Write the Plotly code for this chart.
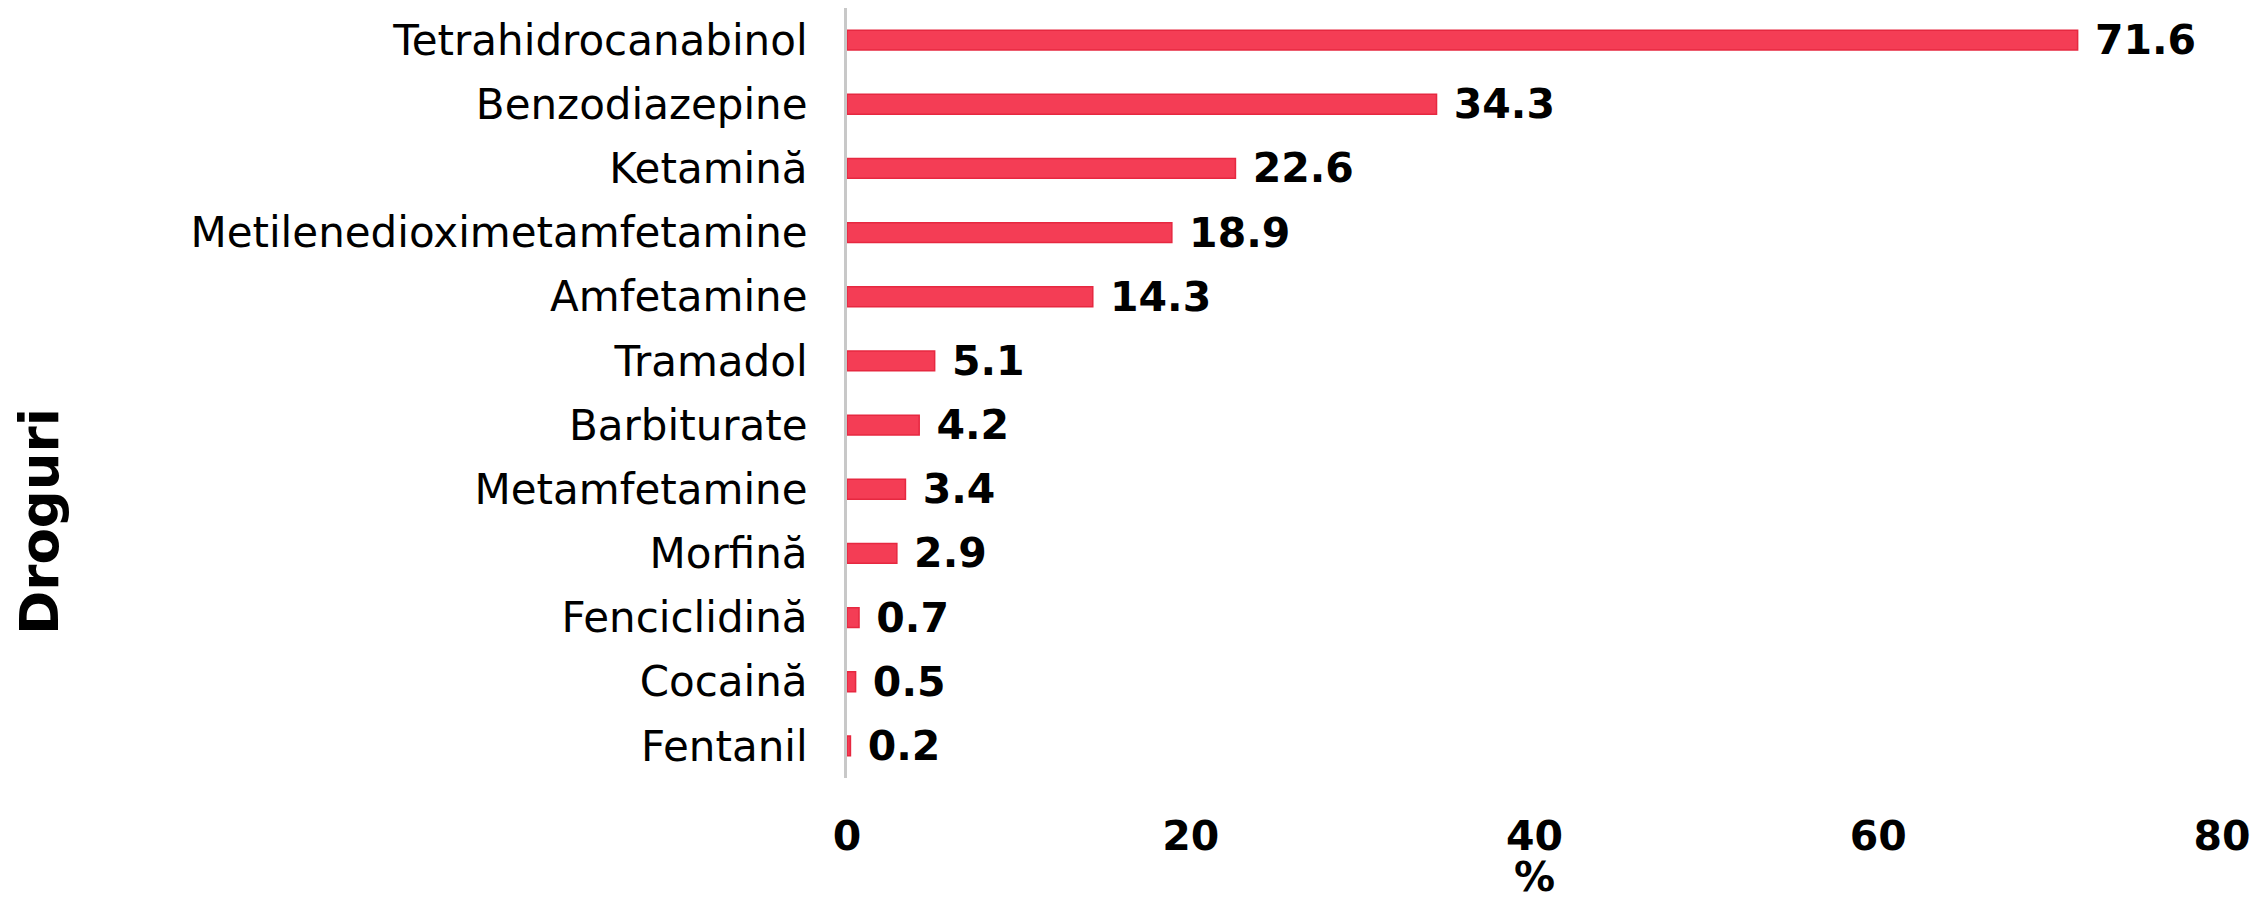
import plotly.graph_objects as go

drugs = ["Tetrahidrocanabinol", "Benzodiazepine", "Ketamină", "Metilenedioximetamfetamine",
         "Amfetamine", "Tramadol", "Barbiturate", "Metamfetamine", "Morfină",
         "Fenciclidină", "Cocaină", "Fentanil"]
percent = [71.6, 34.3, 22.6, 18.9, 14.3, 5.1, 4.2, 3.4, 2.9, 0.7, 0.5, 0.2]
x_ticks = [0, 20, 40, 60, 80]

fig = go.Figure()
fig.add_trace(go.Bar(
    y=drugs, x=percent, orientation="h",
    marker=dict(color="#f43d55", line=dict(color="#e62840", width=1.5)),
    text=percent, texttemplate="\u00a0%{x:.1f}", textposition="outside",
    constraintext="none",
    textfont=dict(family="DejaVu Sans", size=41, color="black", weight="bold"),
    cliponaxis=False, showlegend=False,
))

fig.update_layout(
    width=2252, height=892,
    margin=dict(l=839, r=38, t=0, b=122),
    paper_bgcolor="white", plot_bgcolor="white",
    bargap=0.69,
    font=dict(family="DejaVu Sans", color="black"),
    annotations=[
        dict(text="Droguri", xref="paper", yref="paper", x=-0.587, y=0.334,
             xanchor="center", yanchor="middle", textangle=-90, showarrow=False,
             font=dict(family="DejaVu Sans", size=53, color="black", weight="bold")),
        dict(text="%", xref="paper", yref="paper", x=0.5, y=-0.129,
             xanchor="center", yanchor="middle", showarrow=False,
             font=dict(family="DejaVu Sans", size=41, color="black", weight="bold")),
    ],
)
fig.update_yaxes(
    categoryorder="array", categoryarray=drugs[::-1],
    showline=True, linecolor="#c8c8c8", linewidth=3,
    showgrid=False, zeroline=False, ticks="",
    ticklabelstandoff=28,
    tickfont=dict(family="DejaVu Sans", size=42, color="black"),
    automargin=False,
)
fig.update_xaxes(
    range=[0, 80], tickvals=x_ticks, ticktext=[str(v) for v in x_ticks],
    showline=False, showgrid=False, zeroline=False, ticks="",
    ticklabelstandoff=30,
    tickfont=dict(family="DejaVu Sans", size=41, color="black", weight="bold"),
    automargin=False,
)

fig.write_html("out.html")
